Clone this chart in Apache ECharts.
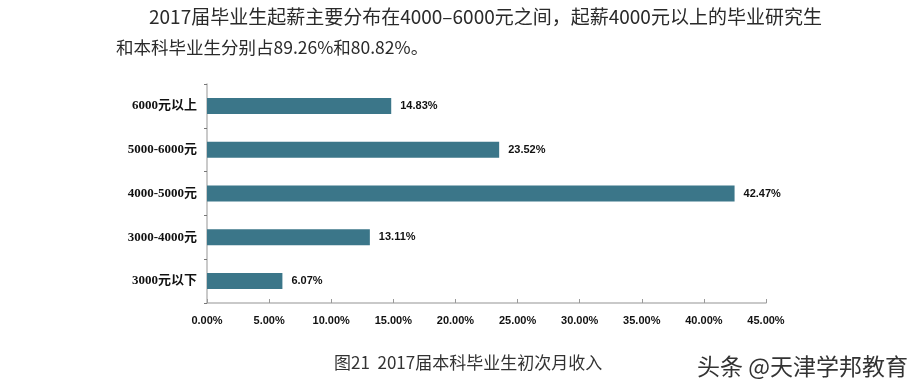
<!DOCTYPE html>
<html><head><meta charset="utf-8">
<script src="https://cdn.jsdelivr.net/npm/echarts@6/dist/echarts.min.js"></script>
<style>html,body{margin:0;padding:0;background:#fff}#c{width:922px;height:389px}</style>
</head><body><div id="c"></div>
<script>
const categories = ['6000元以上', '5000-6000元', '4000-5000元', '3000-4000元', '3000元以下'];
const values = [14.83, 23.52, 42.47, 13.11, 6.07];
const xTicks = [0, 5, 10, 15, 20, 25, 30, 35, 40, 45];
const headline1 = '2017届毕业生起薪主要分布在4000–6000元之间，起薪4000元以上的毕业研究生';
const headline2 = '和本科毕业生分别占89.26%和80.82%。';
const caption = '图21  2017届本科毕业生初次月收入';
const watermark = '头条 @天津学邦教育';

const chart = echarts.init(document.getElementById('c'));
const cjk = '"Noto Sans CJK SC", sans-serif';
chart.setOption({
  animation: false,
  backgroundColor: '#fff',
  title: [
    { text: headline1, left: 144, top: 2, textStyle: { fontFamily: cjk, fontSize: 19, fontWeight: 'normal', color: '#2a2a2a' } },
    { text: headline2, left: 111, top: 34, textStyle: { fontFamily: cjk, fontSize: 17.5, fontWeight: 'normal', color: '#2a2a2a' } },
    { text: caption, left: 329, top: 349, textStyle: { fontFamily: cjk, fontSize: 17, fontWeight: 'normal', color: '#333' } },
    { text: watermark, left: 692, top: 350, textStyle: { fontFamily: cjk, fontSize: 23, fontWeight: 'normal', color: '#333' } }
  ],
  grid: { left: 207, right: 156, top: 84, bottom: 86, containLabel: false },
  xAxis: {
    type: 'value', min: xTicks[0], max: xTicks[xTicks.length - 1], interval: 5,
    axisLine: { show: true, lineStyle: { color: '#b8b8b8', width: 1.5 } },
    axisTick: { show: true, inside: true, length: 4, lineStyle: { color: '#999' } },
    splitLine: { show: false },
    axisLabel: { margin: 12, fontFamily: '"Liberation Sans", sans-serif', fontSize: 11, fontWeight: 'bold', color: '#111',
      formatter: v => v.toFixed(2) + '%' }
  },
  yAxis: {
    type: 'category', inverse: true, data: categories,
    axisLine: { show: true, lineStyle: { color: '#b8b8b8', width: 1.5 } },
    axisTick: { show: true, length: 3, lineStyle: { color: '#777' } },
    axisLabel: { margin: 10, fontFamily: '"Liberation Serif", "Noto Sans CJK SC", serif', fontSize: 13, fontWeight: 'bold', color: '#111' }
  },
  series: [{
    type: 'bar', data: values, barWidth: 16,
    itemStyle: { color: '#3b7689' },
    label: { show: true, position: 'right', distance: 9, fontFamily: '"Liberation Sans", sans-serif', fontSize: 11, fontWeight: 'bold', color: '#111',
      formatter: p => p.value.toFixed(2) + '%' }
  }]
});
</script></body></html>
